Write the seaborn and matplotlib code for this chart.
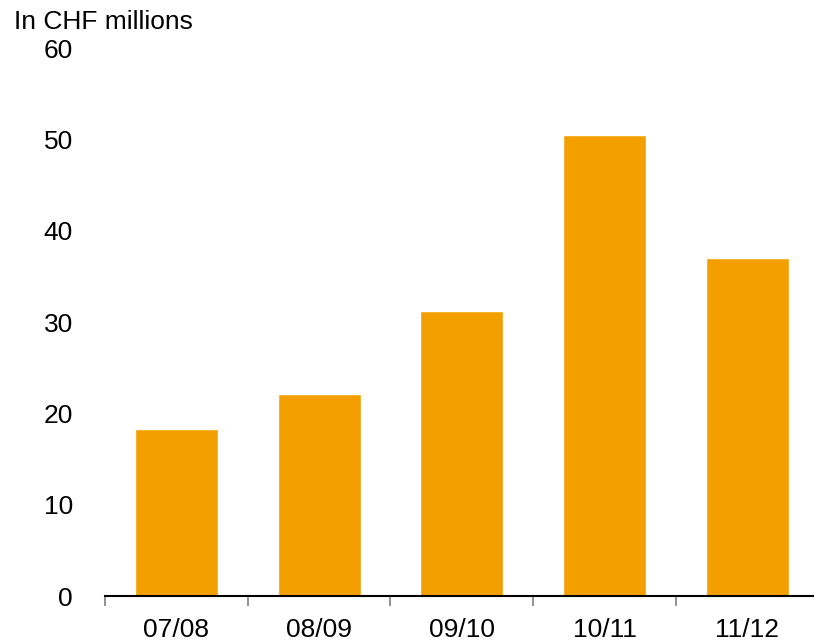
import matplotlib
matplotlib.use("Agg")
import matplotlib.pyplot as plt
import seaborn as sns
import pandas as pd

categories = ["07/08", "08/09", "09/10", "10/11", "11/12"]
values = [18.3, 22.1, 31.2, 50.5, 37.0]
yticks = [0, 10, 20, 30, 40, 50, 60]
title = "In CHF millions"

sns.set_theme(style="white")
plt.rcParams["font.family"] = ["Liberation Sans", "DejaVu Sans"]
plt.rcParams["text.color"] = "black"
plt.rcParams["xtick.color"] = "black"
plt.rcParams["ytick.color"] = "black"

df = pd.DataFrame({"period": categories, "value": values})

fig = plt.figure(figsize=(8.14, 6.41), dpi=100)
ax = fig.add_axes([105 / 814, 45 / 641, 709 / 814, 548 / 641])

sns.barplot(data=df, x="period", y="value", color="#F39F00", width=0.58,
            saturation=1, ax=ax)

ax.set_ylim(0, 60)
ax.set_xlim(-0.5, 4.467)
ax.set_yticks(yticks)
ax.set_yticklabels([str(t) for t in yticks], fontsize=19, color="black")
ax.set_xlabel("")
ax.set_ylabel("")
ax.tick_params(axis="y", length=0, pad=23, labelcolor="black")
ax.tick_params(axis="x", which="major", length=0, pad=16, labelsize=19, labelcolor="black")
ax.set_xticks([i - 0.5 for i in range(len(categories))], minor=True)
ax.tick_params(axis="x", which="minor", length=7, width=1.2, color="#808080", direction="out")
ax.xaxis.set_ticks_position("bottom")

for s in ["top", "right", "left"]:
    ax.spines[s].set_visible(False)
ax.spines["bottom"].set_color("black")
ax.spines["bottom"].set_linewidth(1.5)
ax.grid(False)

fig.text(14 / 814, 1 - 22 / 641, title, fontsize=19, ha="left", va="center", color="black")

fig.savefig("out.png", dpi=100)
